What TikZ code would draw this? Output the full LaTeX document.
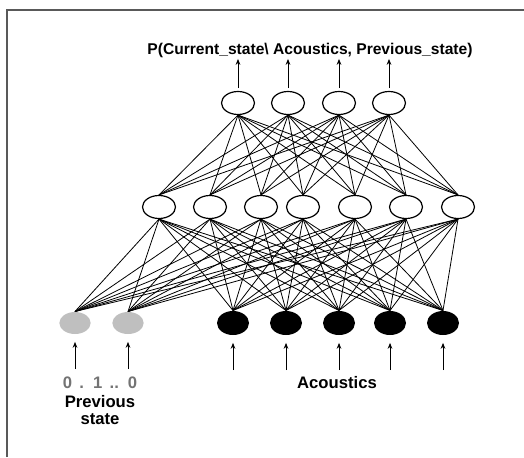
\documentclass[tikz,border=0pt]{standalone}
\usepackage{fontspec}
\setmainfont{Liberation Sans}
\usetikzlibrary{shapes.geometric,arrows.meta}

\tikzset{every picture/.style={line width=0.75pt}}
\tikzset{
  unit/.style={ellipse, draw, fill=white, line width=0.9pt, minimum width=24.75pt, minimum height=17.25pt, inner sep=0pt},
  prevunit/.style={ellipse, fill=black!25, minimum width=23.5pt, minimum height=16.5pt, inner sep=0pt},
  inunit/.style={ellipse, fill=black, minimum width=24pt, minimum height=18pt, inner sep=0pt},
  wire/.style={line width=0.6pt},
  upar/.style={-{Stealth[length=4.5pt,width=3.5pt]}, line width=0.7pt},
  lbl/.style={font=\fontsize{12.5}{13}\selectfont\bfseries, inner sep=0pt}
}

\begin{document}
\begin{tikzpicture}[x=0.75pt,y=0.75pt,yscale=-1,xscale=1]
\useasboundingbox (0,0) rectangle (524,457);

\draw  [line width=1.1pt, black!65]  (7,457) -- (7,10) -- (524,10) ;

% output layer
\node [unit] (o1) at (238,103) {};
\node [unit] (o2) at (288,103) {};
\node [unit] (o3) at (339,103) {};
\node [unit] (o4) at (389,103) {};

% hidden layer
\node [unit] (h1) at (159,207) {};
\node [unit] (h2) at (210,207) {};
\node [unit] (h3) at (261,207) {};
\node [unit] (h4) at (303,207) {};
\node [unit] (h5) at (355,207) {};
\node [unit] (h6) at (406,207) {};
\node [unit] (h7) at (458,207) {};

% input layer
\node [prevunit] (b1) at (75,323) {};
\node [prevunit] (b2) at (128,323) {};
\node [inunit] (b3) at (233,323) {};
\node [inunit] (b4) at (286,323) {};
\node [inunit] (b5) at (339,323) {};
\node [inunit] (b6) at (390,323) {};
\node [inunit] (b7) at (443,323) {};

% weights
\foreach \i in {1,...,7} {
  \foreach \j in {1,...,4}
    \draw [wire] (h\i.north) -- (o\j.south);
  \foreach \k in {1,...,7}
    \draw [wire] (b\k.north) -- (h\i.south);
}

% outputs and inputs
\foreach \j in {1,...,4} {
  \coordinate (t\j) at ([yshift=-24pt]o\j.north);
  \draw [upar, shorten <=2pt] (o\j.north) -- (t\j);
}
\foreach \k in {1,...,7} {
  \coordinate (s\k) at ([yshift=26pt]b\k.south);
  \draw [upar, shorten >=5.5pt] (s\k) -- (b\k.south);
}

\node [font=\fontsize{11.7}{13}\selectfont\bfseries, inner sep=0pt] (prob) at (310,50) {P(Current\_state\textbackslash\ Acoustics, Previous\_state)};
\node [font=\fontsize{12.5}{13}\selectfont\bfseries, text=black!55, inner sep=0pt] (bits) at (100,383) {0 \,.\, 1 \,..\, 0};
\node [lbl, align=center] (prev) at (100,410) {Previous\\state};
\node [lbl] (acou) at (337,383) {Acoustics};

\end{tikzpicture}
\end{document}
